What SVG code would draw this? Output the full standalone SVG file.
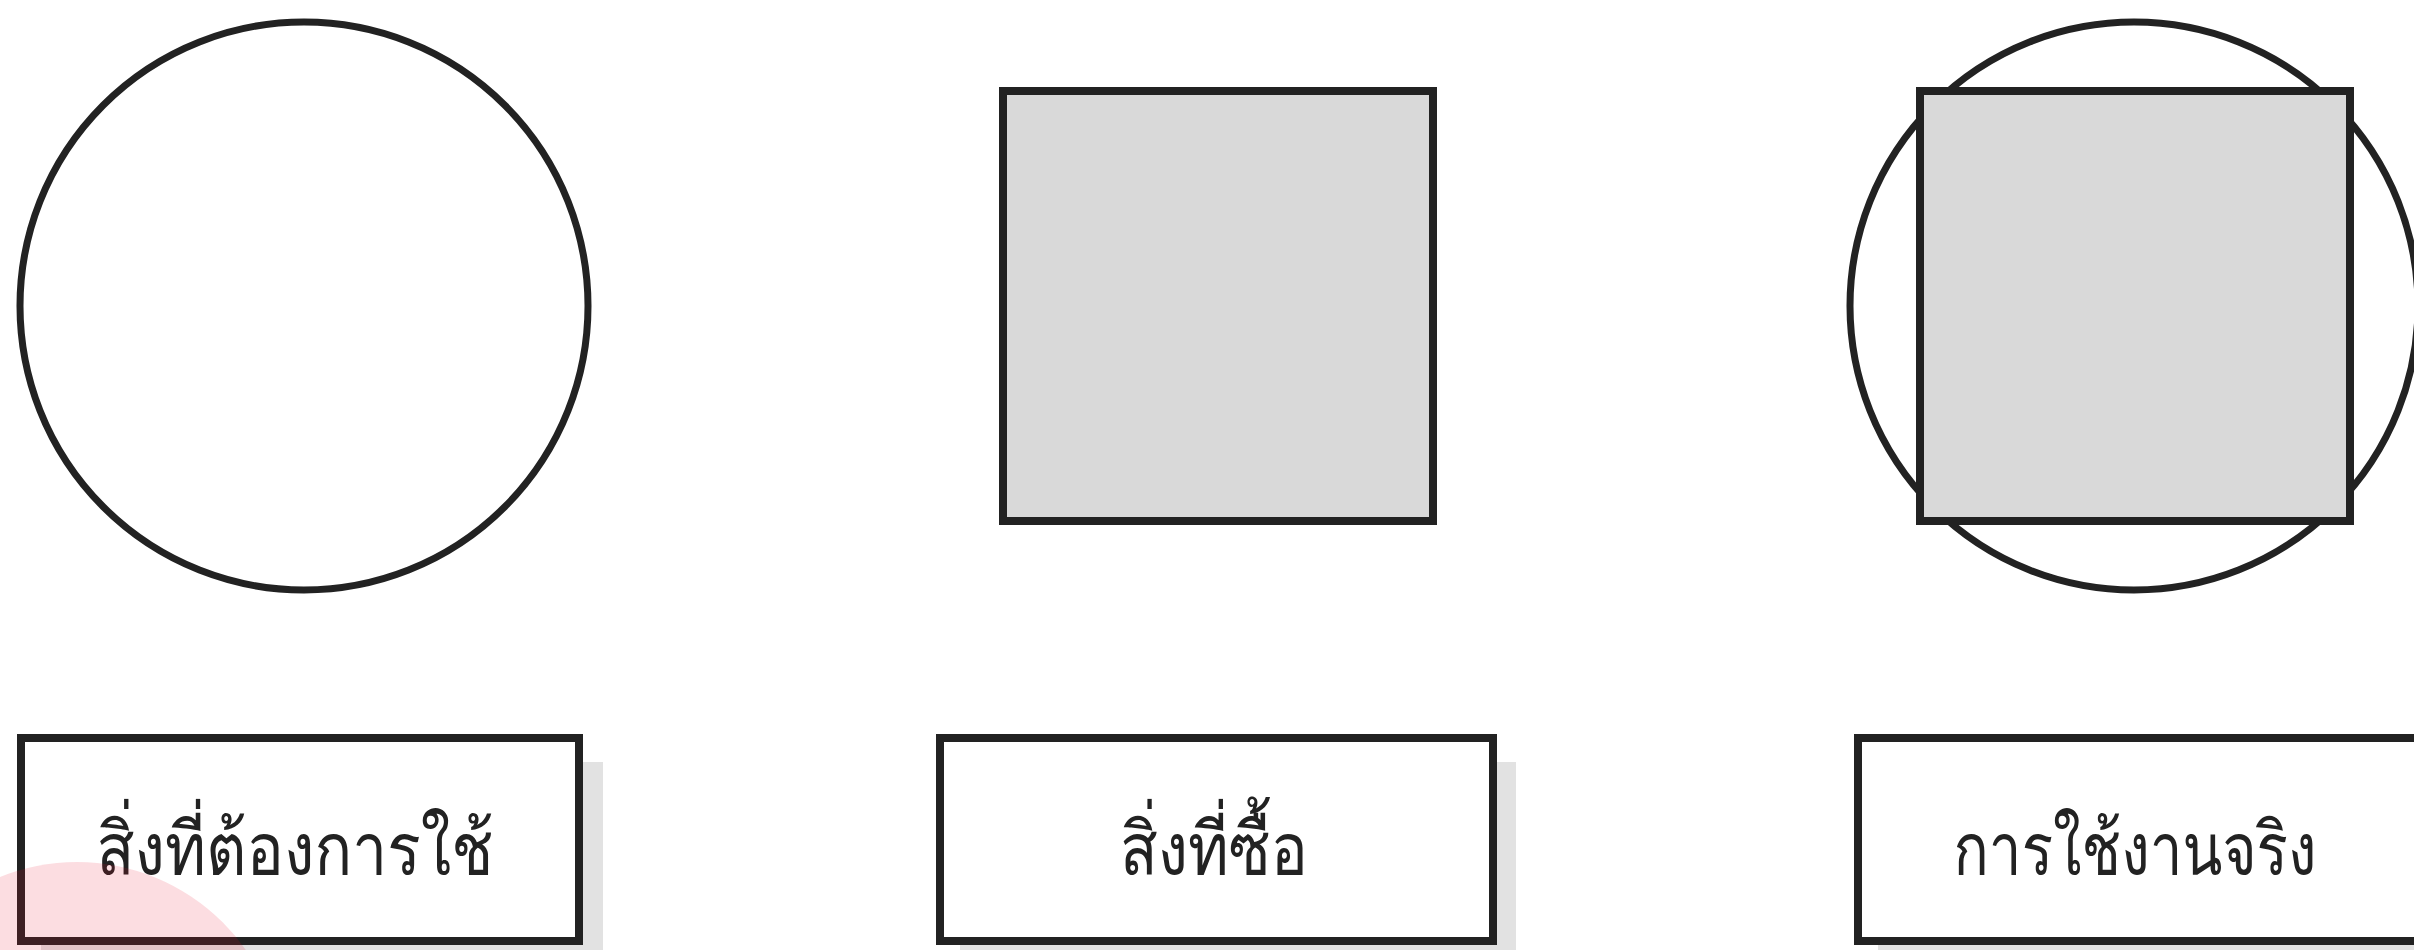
<svg xmlns="http://www.w3.org/2000/svg" width="2414" height="950" viewBox="0 0 2414 950">
<style>
.circ{stroke:#222;stroke-width:7;fill:#fff;}
.sq{stroke:#222;stroke-width:8;fill:#d9d9d9;}
.box{fill:#fff;stroke:#222;stroke-width:8;}
.shadow{fill:#e2e2e2;}
.lbl{font-family:"Loma","Garuda","Noto Sans Thai Looped","Noto Sans Thai","Noto Sans",sans-serif;font-size:74px;fill:#222;text-anchor:middle;}
</style>
<rect width="2414" height="950" fill="#fff"/>
<g id="need">
<circle class="circ" cx="304" cy="306" r="284"/>
</g>
<g id="bought">
<rect class="sq" x="1003" y="91" width="430" height="430"/>
</g>
<g id="actual">
<circle class="circ" cx="2134" cy="306" r="284"/>
<rect class="sq" x="1920" y="91" width="430" height="430"/>
</g>
<g id="label-need">
<rect class="shadow" x="41" y="762" width="562" height="200"/>
<rect class="box" x="21" y="738" width="558" height="203"/>
<text class="lbl" x="295" y="875" textLength="397" lengthAdjust="spacingAndGlyphs">สิ่งที่ต้องการใช้</text>
</g>
<g id="label-bought">
<rect class="shadow" x="960" y="762" width="556" height="200"/>
<rect class="box" x="940" y="738" width="553" height="203"/>
<text class="lbl" x="1214" y="875" textLength="188" lengthAdjust="spacingAndGlyphs">สิ่งที่ซื้อ</text>
</g>
<g id="label-actual">
<rect class="shadow" x="1878" y="762" width="560" height="200"/>
<rect class="box" x="1858" y="738" width="562" height="203"/>
<text class="lbl" x="2135" y="875" textLength="363" lengthAdjust="spacingAndGlyphs">การใช้งานจริง</text>
</g>
<g id="connectors"></g>
<circle cx="77" cy="1068" r="206" fill="#e8102a" opacity="0.14"/>
</svg>
